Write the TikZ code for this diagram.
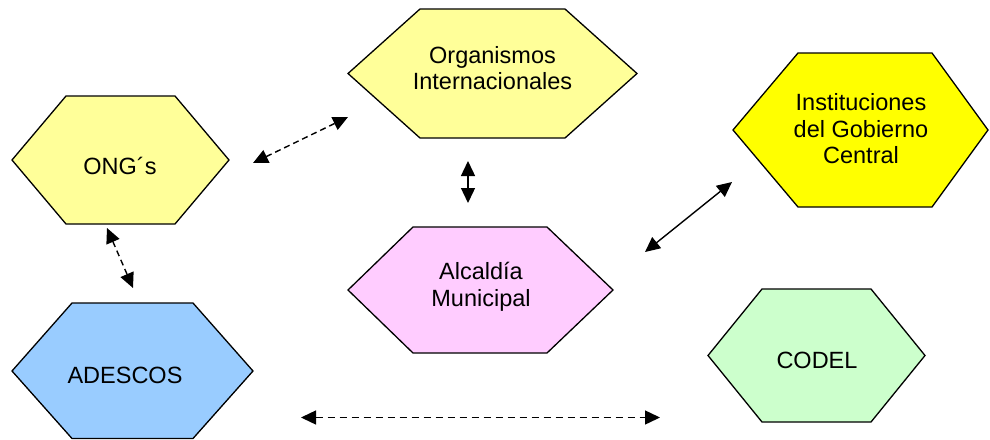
\documentclass[tikz,border=0pt]{standalone}
\usepackage{fontspec}
\setmainfont{Liberation Sans}
\usetikzlibrary{arrows.meta}
\definecolor{lightyel}{HTML}{FFFF99}
\definecolor{fullyel}{HTML}{FFFF00}
\definecolor{lightpink}{HTML}{FFCCFF}
\definecolor{lightblue}{HTML}{99CCFF}
\definecolor{lightgreen}{HTML}{CCFFCC}
\begin{document}
\begin{tikzpicture}[x=1pt,y=-1pt,
  hexbox/.style={draw=black, line width=1.3pt, line join=miter},
  lbl/.style={align=center, font=\fontsize{23.5}{26.5}\selectfont, inner sep=0pt},
  link/.style={line width=1.4pt, {Triangle[length=15pt,width=14pt]}-{Triangle[length=15pt,width=14pt]}},
  dashlink/.style={link, dash pattern=on 6pt off 4pt}]
\useasboundingbox (0,0) rectangle (990,439);

% hexagons
\filldraw[hexbox, fill=lightyel] (348,73.5) -- (420,9) -- (565,9) -- (637,73.5) -- (565,138) -- (420,138) -- cycle;
\filldraw[hexbox, fill=lightyel] (12,160) -- (66,96) -- (175,96) -- (229,160) -- (175,224) -- (66,224) -- cycle;
\filldraw[hexbox, fill=fullyel] (733,130) -- (798,53) -- (932,53) -- (988,130) -- (932,207) -- (798,207) -- cycle;
\filldraw[hexbox, fill=lightblue] (12,371) -- (72,303) -- (193,303) -- (253,371) -- (193,438.5) -- (72,438.5) -- cycle;
\filldraw[hexbox, fill=lightpink] (348,290) -- (413,227) -- (547,227) -- (613,290) -- (547,353) -- (413,353) -- cycle;
\filldraw[hexbox, fill=lightgreen] (708,355.5) -- (762,289) -- (871,289) -- (925,355.5) -- (871,422) -- (762,422) -- cycle;

% labels
\node[lbl] (org) at (492.5,68) {Organismos\\Internacionales};
\node[lbl] (ong) at (120,166) {ONG´s};
\node[lbl] (inst) at (861,129) {Instituciones\\del Gobierno\\Central};
\node[lbl] (ades) at (125,375) {ADESCOS};
\node[lbl] (alc) at (481,287) {Alcaldía\\Municipal};
\node[lbl] (codel) at (817,360) {CODEL};

% connector end points
\coordinate (ongR) at (253,163);
\coordinate (orgL) at (348,117);
\coordinate (orgB) at (468,161);
\coordinate (alcT) at (468,203);
\coordinate (alcR) at (645,252);
\coordinate (instL) at (732,182);
\coordinate (ongB) at (107,228);
\coordinate (adesT) at (133,288);
\coordinate (botL) at (301,417.5);
\coordinate (botR) at (660,417.5);

% connectors
\draw[dashlink] (ongR) -- (orgL);
\draw[link] (orgB) -- (alcT);
\draw[link] (alcR) -- (instL);
\draw[dashlink] (ongB) -- (adesT);
\draw[link, dash pattern=on 7pt off 5pt] (botL) -- (botR);
\end{tikzpicture}
\end{document}
